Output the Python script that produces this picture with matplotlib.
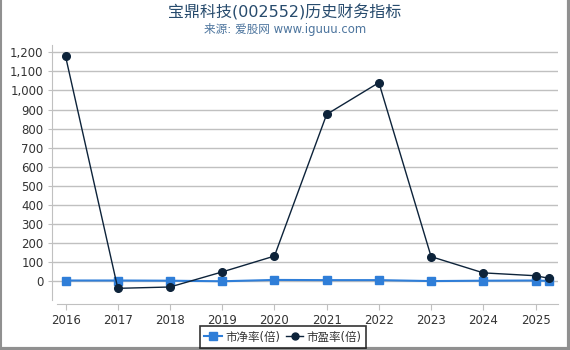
import matplotlib
matplotlib.use("Agg")
import matplotlib.pyplot as plt
from matplotlib.ticker import FuncFormatter
from matplotlib.lines import Line2D

plt.rcParams['font.family'] = ['DejaVu Sans', 'Noto Sans CJK SC']

years = [2016, 2017, 2018, 2019, 2020, 2021, 2022, 2023, 2024, 2025, 2025.25]
pb = [5, 5, 4, 1, 8, 7, 7, 2, 4, 5, 3]
pe = [1178, -36, -29, 50, 133, 875, 1041, 130, 45, 30, 17]
xticks = [2016, 2017, 2018, 2019, 2020, 2021, 2022, 2023, 2024, 2025]
yticks = list(range(0, 1300, 100))

W, H = 570, 350
fig = plt.figure(figsize=(W / 100, H / 100), dpi=100)
ax = fig.add_axes([52 / W, (H - 304) / H, (558 - 52) / W, (304 - 45) / H])

ax.set_xlim(2015.74, 2025.43)
ax.set_ylim(-118, 1238)

ax.grid(axis='y', color='#c0c0c0', linewidth=1)
ax.set_axisbelow(True)

ax.plot(years, pb, color='#2f7ed8', linewidth=1.5, marker='s', markersize=5.5,
        markerfacecolor='#2f7ed8', markeredgecolor='#2f7ed8', zorder=3)
ax.plot(years, pe, color='#0d233a', linewidth=1.0, marker='o', markersize=5.5,
        markerfacecolor='#0d233a', markeredgecolor='#0d233a', zorder=4)

ax.set_xticks(xticks)
ax.set_xticklabels([str(x) for x in xticks])
ax.set_yticks(yticks)
ax.yaxis.set_major_formatter(FuncFormatter(lambda v, p: f"{int(v):,}"))

for s in ['top', 'right']:
    ax.spines[s].set_visible(False)
ax.spines['left'].set_color('#c0c0c0')
ax.spines['bottom'].set_color('#c0c0c0')
ax.spines['left'].set_bounds(-97, 1238)
ax.spines['bottom'].set_bounds(2015.84, 2025.43)

ax.tick_params(axis='x', colors='#c0c0c0', labelcolor='#333333', length=4, labelsize=8.5, pad=3)
ax.tick_params(axis='y', colors='#c0c0c0', labelcolor='#333333', length=3, labelsize=8.5, pad=3)

fig.text(0.5, 1 - 12 / H, '宝鼎科技(002552)历史财务指标', ha='center', va='center',
         fontsize=11.5, color='#274b6d', family=['DejaVu Sans', 'Noto Sans CJK SC'])
fig.text(0.5, 1 - 29 / H, '来源: 爱股网 www.iguuu.com', ha='center', va='center',
         fontsize=8.4, color='#4d759e', family=['DejaVu Sans', 'Noto Sans CJK SC'])

handles = [
    Line2D([], [], color='#2f7ed8', linewidth=1.5, marker='s', markersize=5.5),
    Line2D([], [], color='#0d233a', linewidth=1.0, marker='o', markersize=5),
]
leg = fig.legend(handles, ['市净率(倍)', '市盈率(倍)'], loc='center',
                 bbox_to_anchor=(283 / W, 1 - 337 / H), ncol=2, frameon=True,
                 fancybox=False, edgecolor='black', handlelength=1.5,
                 handletextpad=0.3, columnspacing=0.5, borderpad=0.35,
                 prop={'family': ['DejaVu Sans', 'Noto Sans CJK SC'], 'size': 8.3})
leg.get_frame().set_linewidth(1.2)
for t in leg.get_texts():
    t.set_color('#333333')

# figure border
fig.add_artist(Line2D([0.5 / W, 0.5 / W], [0, 1], color='#909090', linewidth=1.5, transform=fig.transFigure))
fig.add_artist(Line2D([1 - 1.5 / W, 1 - 1.5 / W], [0, 1], color='#909090', linewidth=3, transform=fig.transFigure))
fig.add_artist(Line2D([0, 1], [1.5 / H, 1.5 / H], color='#909090', linewidth=3, transform=fig.transFigure))

fig.savefig('out.png', dpi=100)
